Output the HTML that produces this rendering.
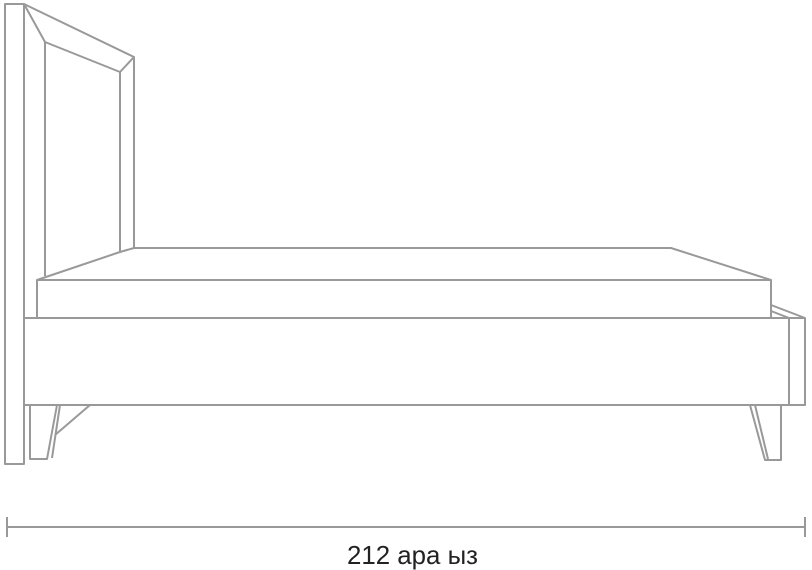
<!DOCTYPE html>
<html><head><style>
html,body{margin:0;padding:0;background:#fff;width:812px;height:570px;overflow:hidden}
</style></head><body>
<svg width="812" height="570" viewBox="0 0 812 570" xmlns="http://www.w3.org/2000/svg">
<g fill="none" stroke="#999" stroke-width="2" stroke-linejoin="round">
<rect x="5" y="4" width="19" height="460"/>
<polyline points="24,4 134,57 134,248"/>
<polyline points="24,4 45,42 120,72 134,57"/>
<line x1="45" y1="42" x2="45" y2="276"/>
<line x1="120" y1="72" x2="120" y2="252"/>
<polyline points="37,280 120,252 134,248 671,248 771,280"/>
<rect x="37" y="280" width="734" height="38"/>
<rect x="24" y="318" width="765" height="87"/>
<rect x="789" y="318" width="16" height="87"/>
<polyline points="771,305 805,318"/>
<polyline points="771,311 789,318"/>
<polyline points="30,405 30,459 47,459 57,405"/>
<line x1="60" y1="405" x2="52" y2="458"/>
<line x1="90" y1="405" x2="55" y2="435"/>
<polyline points="750,405 765,460 781,460 781,405"/>
<line x1="755" y1="405" x2="768" y2="459"/>
<line x1="7" y1="527" x2="805" y2="527"/>
<line x1="7" y1="517" x2="7" y2="537"/>
<line x1="805" y1="517" x2="805" y2="537"/>
</g>
<text x="347" y="564" textLength="131" lengthAdjust="spacingAndGlyphs" font-family="'Liberation Sans', 'DejaVu Sans', sans-serif" font-size="26" fill="#222">212  ара ыз</text>
</svg>
</body></html>
